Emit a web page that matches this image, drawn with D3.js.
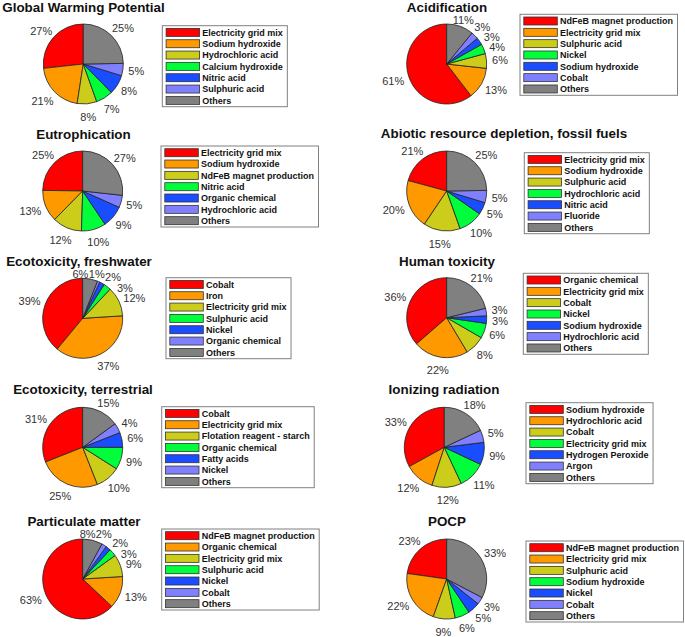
<!DOCTYPE html>
<html><head><meta charset="utf-8">
<script src="https://cdn.jsdelivr.net/npm/d3@7"></script>
<style>body{margin:0;background:#fff}svg{display:block}</style>
</head><body>
<svg id="chart" width="685" height="637"></svg>
<script>
// ---------- data ----------
const titles = ["Global Warming Potential","Acidification","Eutrophication","Abiotic resource depletion, fossil fuels","Ecotoxicity, freshwater","Human toxicity","Ecotoxicity, terrestrial","Ionizing radiation","Particulate matter","POCP"];

const gwpItems = ["Electricity grid mix","Sodium hydroxide","Hydrochloric acid","Calcium hydroxide","Nitric acid","Sulphuric acid","Others"];
const gwpValues = [27,21,8,7,8,5,25];
const acidItems = ["NdFeB magnet production","Electricity grid mix","Sulphuric acid","Nickel","Sodium hydroxide","Cobalt","Others"];
const acidValues = [61,13,6,4,3,3,11];
const eutroItems = ["Electricity grid mix","Sodium hydroxide","NdFeB magnet production","Nitric acid","Organic chemical","Hydrochloric acid","Others"];
const eutroValues = [25,13,12,10,9,5,27];
const abioticItems = ["Electricity grid mix","Sodium hydroxide","Sulphuric acid","Hydrochloric acid","Nitric acid","Fluoride","Others"];
const abioticValues = [21,20,15,10,5,5,25];
const freshItems = ["Cobalt","Iron","Electricity grid mix","Sulphuric acid","Nickel","Organic chemical","Others"];
const freshValues = [39,37,12,3,2,1,6];
const humanItems = ["Organic chemical","Electricity grid mix","Cobalt","Nickel","Sodium hydroxide","Hydrochloric acid","Others"];
const humanValues = [36,22,8,6,3,3,21];
const terrItems = ["Cobalt","Electricity grid mix","Flotation reagent - starch","Organic chemical","Fatty acids","Nickel","Others"];
const terrValues = [31,25,10,9,6,4,15];
const ionItems = ["Sodium hydroxide","Hydrochloric acid","Cobalt","Electricity grid mix","Hydrogen Peroxide","Argon","Others"];
const ionValues = [33,12,12,11,9,5,18];
const pmItems = ["NdFeB magnet production","Organic chemical","Electricity grid mix","Sulphuric acid","Nickel","Cobalt","Others"];
const pmValues = [63,13,9,3,2,2,8];
const pocpItems = ["NdFeB magnet production","Electricity grid mix","Sulphuric acid","Sodium hydroxide","Nickel","Cobalt","Others"];
const pocpValues = [23,22,9,6,5,3,33];

const allItems = [gwpItems,acidItems,eutroItems,abioticItems,freshItems,humanItems,terrItems,ionItems,pmItems,pocpItems];
const allValues = [gwpValues,acidValues,eutroValues,abioticValues,freshValues,humanValues,terrValues,ionValues,pmValues,pocpValues];

// ---------- styling / layout ----------
const sliceColors = ["#FF0000","#FF9900","#CCCC1A","#00FF3A","#1A4DFF","#8080FF","#808080"];
const layout = [
  {cx:83.3, cy:64,    tx:83.5, ty:11.5,  lx:162.3, ly:25.7},
  {cx:446.7,cy:64,    tx:447,  ty:11.7,  lx:520,   ly:14.3},
  {cx:82.7, cy:191,   tx:83.5, ty:139,   lx:161,   ly:146},
  {cx:446.7,cy:191,   tx:504,  ty:137.7, lx:524.3, ly:152.7},
  {cx:82.7, cy:318.3, tx:79,   ty:265.7, lx:166,   ly:277.7},
  {cx:446.7,cy:317.7, tx:447,  ty:265.7, lx:523.3, ly:273.3},
  {cx:82.7, cy:447.3, tx:83,   ty:394.3, lx:161.7, ly:406.7},
  {cx:444.3,cy:447.3, tx:444,  ty:394,   lx:526,   ly:402.7},
  {cx:82.7, cy:579,   tx:84,   ty:525.7, lx:161.7, ly:529},
  {cx:446.7,cy:579,   tx:447,  ty:525.7, lx:526,   ly:541}
];
const R = 40;
const FONT = "'Liberation Sans', Arial, Helvetica, sans-serif";

const svg = d3.select("#chart");
const color = d3.scaleOrdinal().domain(d3.range(7)).range(sliceColors);
const pie = d3.pie().sort(null).value(d => d).startAngle(0).endAngle(-2*Math.PI);
const arc = d3.arc().innerRadius(0).outerRadius(R);
const rowScale = d3.scaleLinear().domain([0,6]).range([6.7, 6.7 + 6*11.33]);

allValues.forEach((vals, p) => {
  const L = layout[p];
  const g = svg.append("g");

  // title
  const title = g.append("text").attr("x", L.tx).attr("y", L.ty)
    .attr("text-anchor","middle").attr("font-family",FONT)
    .attr("font-weight","bold").attr("font-size","13.4px").attr("fill","#111")
    .text(titles[p]);
  const tw = title.node().getComputedTextLength();
  const tBox = {x1: L.tx - tw/2 - L.cx, x2: L.tx + tw/2 - L.cx, bottom: L.ty + 3 - L.cy};

  // pie
  const arcs = pie(vals);
  const pg = g.append("g").attr("transform",`translate(${L.cx},${L.cy})`);
  pg.selectAll("path").data(arcs).join("path")
    .attr("d", arc).attr("fill",(d,i)=>color(i))
    .attr("stroke","#222").attr("stroke-width",0.8).attr("stroke-linejoin","round");

  // percentage labels
  const labs = pg.selectAll("text.pct").data(arcs).join("text").attr("class","pct")
    .attr("font-family",FONT).attr("font-size","11px").attr("fill","#333")
    .attr("text-anchor","middle").text(d => d.data + "%");
  const items = [];
  labs.each(function(d){ items.push({ang:(d.startAngle+d.endAngle)/2, w:this.getComputedTextLength(), h:8, hc:10}); });
  const pos = it => {
    const ux = Math.sin(it.ang), uy = -Math.cos(it.ang);
    const x = ux*1.1*R + ux*(it.w/2+1.5);
    let y = uy*1.1*R + uy*(it.h/2+2) + Math.max(0,uy)*3;
    // keep clear of the panel title
    if (x + it.w/2 > tBox.x1 && x - it.w/2 < tBox.x2 && y - it.hc/2 < tBox.bottom) {
      y = tBox.bottom + it.hc/2;
    }
    return {x, y};
  };
  for (let iter=0; iter<2000; iter++) {
    let moved = false;
    for (let i=0;i<items.length;i++) for (let j=i+1;j<items.length;j++) {
      const a = pos(items[i]), b = pos(items[j]);
      const ox = Math.min(a.x+items[i].w/2, b.x+items[j].w/2) - Math.max(a.x-items[i].w/2, b.x-items[j].w/2);
      const oy = Math.min(a.y+items[i].hc/2, b.y+items[j].hc/2) - Math.max(a.y-items[i].hc/2, b.y-items[j].hc/2);
      if (ox > -0.3 && oy > -0.3) {
        let diff = items[j].ang - items[i].ang;
        diff = Math.atan2(Math.sin(diff), Math.cos(diff));
        const s = diff >= 0 ? 1 : -1;
        items[i].ang -= s*0.003; items[j].ang += s*0.003;
        moved = true;
      }
    }
    if (!moved) break;
  }
  labs.each(function(d,i){
    const q = pos(items[i]);
    d3.select(this).attr("x", q.x).attr("y", q.y + items[i].h/2);
  });

  // legend
  const lg = g.append("g").attr("transform",`translate(${L.lx},${L.ly})`);
  const box = lg.append("rect").attr("x",0).attr("y",0).attr("height",81)
    .attr("fill","#fff").attr("stroke","#808080").attr("stroke-width",1);
  const rows = lg.selectAll("g.row").data(allItems[p]).join("g").attr("class","row")
    .attr("transform",(d,i)=>`translate(0,${rowScale(i)})`);
  rows.append("rect").attr("x",3.8).attr("y",-4).attr("width",33.5).attr("height",8)
    .attr("fill",(d,i)=>color(i)).attr("stroke","#333").attr("stroke-width",0.8);
  let maxW = 0;
  rows.append("text").attr("x",40).attr("y",3.3)
    .attr("font-family",FONT).attr("font-weight","bold").attr("font-size","9px").attr("fill","#111")
    .text(d=>d).each(function(){ maxW = Math.max(maxW, this.getComputedTextLength()); });
  box.attr("width", 40 + maxW + 4.5);
});
</script>
</body></html>
